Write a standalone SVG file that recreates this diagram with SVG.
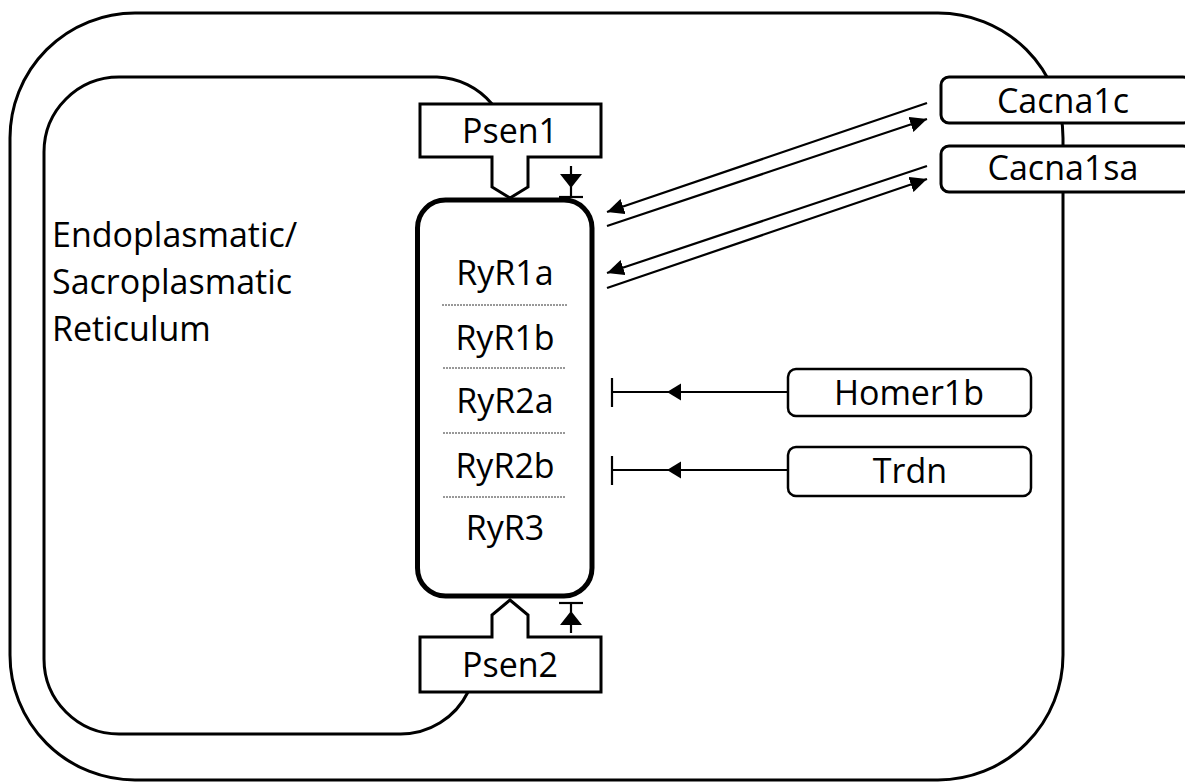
<svg xmlns="http://www.w3.org/2000/svg" width="1185" height="783" viewBox="0 0 1185 783">
  <style>
    .line { fill: none; stroke: #000; stroke-width: 2.2; }
    .cell { fill: none; stroke: #000; stroke-width: 3; }
    .box { fill: #fff; stroke: #000; stroke-width: 3; }
    .ryr { fill: #fff; stroke: #000; stroke-width: 5; }
    .sep { stroke: #333; stroke-width: 1; stroke-dasharray: 2 1; }
    .lbl { font-family: "Open Sans", "Liberation Sans", sans-serif; font-size: 34px; fill: #000; }
    .mid { text-anchor: middle; }
    .head { fill: #000; }
  </style>
  <defs>
    <marker id="arrow" markerUnits="userSpaceOnUse" markerWidth="18" markerHeight="16" refX="17" refY="8" orient="auto">
      <path d="M0,0 L17,8 L0,16 z" fill="#000"/>
    </marker>
  </defs>

  <!-- cell membrane -->
  <g id="cell">
    <rect class="cell" x="10" y="13" width="1053" height="767" rx="125" ry="125"/>
  </g>

  <!-- ER / SR membrane -->
  <g id="reticulum">
    <path class="cell" d="M492,104 A75,75 0 0 0 437,77 L119,77 A75,75 0 0 0 44,152 L44,659 A75,75 0 0 0 119,734 L400,734 A75,75 0 0 0 468,692"/>
    <text class="lbl" x="52" y="247">Endoplasmatic/</text>
    <text class="lbl" x="52" y="294">Sacroplasmatic</text>
    <text class="lbl" x="52" y="341">Reticulum</text>
  </g>

  <!-- ryanodine receptor cluster -->
  <g id="ryr">
    <rect class="ryr" x="417.5" y="200" width="174.5" height="396" rx="28" ry="28"/>
    <text class="lbl mid" x="505" y="285">RyR1a</text>
    <line class="sep" x1="442" y1="305" x2="567" y2="305"/>
    <text class="lbl mid" x="505" y="350">RyR1b</text>
    <line class="sep" x1="443" y1="368" x2="565" y2="368"/>
    <text class="lbl mid" x="505" y="413">RyR2a</text>
    <line class="sep" x1="443" y1="433" x2="565" y2="433"/>
    <text class="lbl mid" x="505" y="478">RyR2b</text>
    <line class="sep" x1="443" y1="497" x2="565" y2="497"/>
    <text class="lbl mid" x="505" y="540">RyR3</text>
  </g>

  <g id="psen1">
    <path class="box" d="M420,104 L601,104 L601,157 L528,157 L528,187 L510,198 L492,187 L492,157 L420,157 Z"/>
    <text class="lbl mid" x="510" y="143">Psen1</text>
  </g>

  <g id="psen2">
    <path class="box" d="M420,637 L492,637 L492,615 L510,600 L528,615 L528,637 L601,637 L601,692 L420,692 Z"/>
    <text class="lbl mid" x="510" y="677">Psen2</text>
  </g>

  <g id="cacna1c">
    <rect class="box" x="941" y="77" width="250" height="46" rx="8" ry="8"/>
    <text class="lbl mid" x="1063" y="113">Cacna1c</text>
  </g>

  <g id="cacna1sa">
    <rect class="box" x="941" y="146" width="250" height="46" rx="8" ry="8"/>
    <text class="lbl mid" x="1063" y="180">Cacna1sa</text>
  </g>

  <g id="homer1b">
    <rect class="box" x="788" y="369" width="243" height="47" rx="8" ry="8" style="stroke-width:2.5"/>
    <text class="lbl mid" x="909" y="405">Homer1b</text>
  </g>

  <g id="trdn">
    <rect class="box" x="788" y="447" width="243" height="49" rx="8" ry="8" style="stroke-width:2.5"/>
    <text class="lbl mid" x="910" y="483">Trdn</text>
  </g>

  <!-- interactions -->
  <g id="connectors">
    <!-- Cacna1c <-> RyR -->
    <line class="line" x1="927" y1="103" x2="607" y2="212" marker-end="url(#arrow)"/>
    <line class="line" x1="607" y1="226" x2="927" y2="119" marker-end="url(#arrow)"/>
    <!-- Cacna1sa <-> RyR -->
    <line class="line" x1="927" y1="166" x2="607" y2="273" marker-end="url(#arrow)"/>
    <line class="line" x1="607" y1="288" x2="927" y2="179" marker-end="url(#arrow)"/>

    <!-- Homer1b -| RyR -->
    <line class="line" x1="788" y1="392" x2="612" y2="392"/>
    <path class="head" d="M667,392 L681,383.5 L681,400.5 Z"/>
    <line class="line" x1="612" y1="378" x2="612" y2="407"/>

    <!-- Trdn -| RyR -->
    <line class="line" x1="788" y1="470" x2="612" y2="470"/>
    <path class="head" d="M667,470 L681,461.5 L681,478.5 Z"/>
    <line class="line" x1="612" y1="456" x2="612" y2="485"/>

    <!-- Psen1 -| RyR -->
    <line class="line" x1="571" y1="166" x2="571" y2="197"/>
    <path class="head" d="M560,174 L582,174 L571,188 Z"/>
    <line class="line" x1="559" y1="197" x2="583" y2="197"/>

    <!-- Psen2 -| RyR -->
    <line class="line" x1="571" y1="603" x2="571" y2="633"/>
    <path class="head" d="M571,611 L582,625 L560,625 Z"/>
    <line class="line" x1="559" y1="603" x2="583" y2="603"/>
  </g>
</svg>
